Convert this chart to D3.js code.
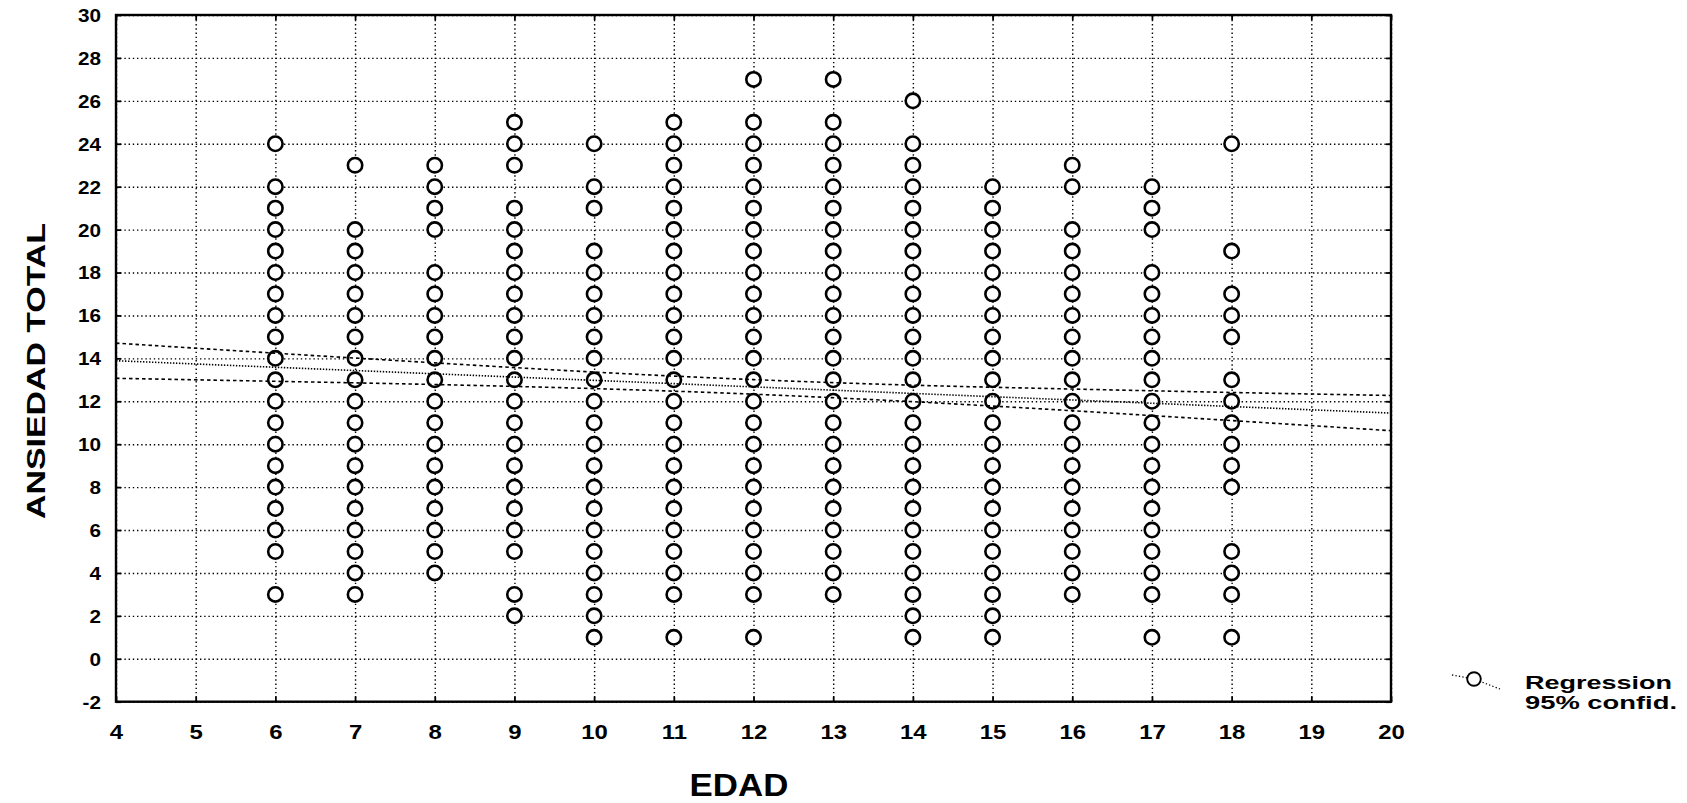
<!DOCTYPE html>
<html>
<head>
<meta charset="utf-8">
<script src="https://cdn.jsdelivr.net/npm/d3@7"></script>
<style>
  html, body { margin: 0; padding: 0; background: #fff; }
  svg { display: block; }
  text { font-family: "Liberation Sans", Arial, Helvetica, sans-serif; font-weight: bold; fill: #000; }
</style>
</head>
<body>
<svg id="chart" width="1687" height="803"></svg>
<script>
// Ages (EDAD) and the anxiety totals observed at each age
const ages = [6, 7, 8, 9, 10, 11, 12, 13, 14, 15, 16, 17, 18];
const scores6  = [24, 22, 21, 20, 19, 18, 17, 16, 15, 14, 13, 12, 11, 10, 9, 8, 7, 6, 5, 3];
const scores7  = [23, 20, 19, 18, 17, 16, 15, 14, 13, 12, 11, 10, 9, 8, 7, 6, 5, 4, 3];
const scores8  = [23, 22, 21, 20, 18, 17, 16, 15, 14, 13, 12, 11, 10, 9, 8, 7, 6, 5, 4];
const scores9  = [25, 24, 23, 21, 20, 19, 18, 17, 16, 15, 14, 13, 12, 11, 10, 9, 8, 7, 6, 5, 3, 2];
const scores10 = [24, 22, 21, 19, 18, 17, 16, 15, 14, 13, 12, 11, 10, 9, 8, 7, 6, 5, 4, 3, 2, 1];
const scores11 = [25, 24, 23, 22, 21, 20, 19, 18, 17, 16, 15, 14, 13, 12, 11, 10, 9, 8, 7, 6, 5, 4, 3, 1];
const scores12 = [27, 25, 24, 23, 22, 21, 20, 19, 18, 17, 16, 15, 14, 13, 12, 11, 10, 9, 8, 7, 6, 5, 4, 3, 1];
const scores13 = [27, 25, 24, 23, 22, 21, 20, 19, 18, 17, 16, 15, 14, 13, 12, 11, 10, 9, 8, 7, 6, 5, 4, 3];
const scores14 = [26, 24, 23, 22, 21, 20, 19, 18, 17, 16, 15, 14, 13, 12, 11, 10, 9, 8, 7, 6, 5, 4, 3, 2, 1];
const scores15 = [22, 21, 20, 19, 18, 17, 16, 15, 14, 13, 12, 11, 10, 9, 8, 7, 6, 5, 4, 3, 2, 1];
const scores16 = [23, 22, 20, 19, 18, 17, 16, 15, 14, 13, 12, 11, 10, 9, 8, 7, 6, 5, 4, 3];
const scores17 = [22, 21, 20, 18, 17, 16, 15, 14, 13, 12, 11, 10, 9, 8, 7, 6, 5, 4, 3, 1];
const scores18 = [24, 19, 17, 16, 15, 13, 12, 11, 10, 9, 8, 5, 4, 3, 1];
const scoreColumns = [scores6, scores7, scores8, scores9, scores10, scores11, scores12,
                      scores13, scores14, scores15, scores16, scores17, scores18];

// Fitted regression line and its 95% confidence band
const fitX = [4, 20];
const fitY = [13.89, 11.45];
const bandX     = [4, 6, 8, 10, 12, 14, 16, 18, 20];
const bandUpper = [14.71, 14.24, 13.79, 13.36, 13.01, 12.75, 12.57, 12.41, 12.27];
const bandLower = [13.07, 12.93, 12.78, 12.59, 12.33, 11.98, 11.56, 11.10, 10.63];

// Axis ticks
const xTickValues = [4, 5, 6, 7, 8, 9, 10, 11, 12, 13, 14, 15, 16, 17, 18, 19, 20];
const yTickValues = [-2, 0, 2, 4, 6, 8, 10, 12, 14, 16, 18, 20, 22, 24, 26, 28, 30];

const xTitle = "EDAD";
const yTitle = "ANSIEDAD TOTAL";
const legendLines = ["Regression", "95% confid."];

// Layout
const plot = { left: 116, right: 1391, top: 15, bottom: 701.7 };
const svg = d3.select("#chart");

const x = d3.scaleLinear().domain([4, 20]).range([plot.left, plot.right]);
const y = d3.scaleLinear().domain([-2, 30]).range([plot.bottom, plot.top]);

const points = [];
ages.forEach((a, i) => scoreColumns[i].forEach(v => points.push({ age: a, score: v })));

// Dotted grid
const grid = svg.append("g").attr("class", "grid");
grid.append("g")
  .attr("transform", `translate(0,${plot.bottom})`)
  .call(d3.axisBottom(x).tickValues(xTickValues).tickSize(-(plot.bottom - plot.top)).tickFormat(""))
  .call(g => g.select(".domain").remove());
grid.append("g")
  .attr("transform", `translate(${plot.left},0)`)
  .call(d3.axisLeft(y).tickValues(yTickValues).tickSize(-(plot.right - plot.left)).tickFormat(""))
  .call(g => g.select(".domain").remove());
grid.selectAll("line")
  .attr("stroke", "#000")
  .attr("stroke-width", 1.4)
  .attr("stroke-dasharray", "1.4,2.8");

// Data points
svg.append("g").attr("class", "points")
  .selectAll("circle")
  .data(points)
  .join("circle")
  .attr("cx", d => x(d.age))
  .attr("cy", d => y(d.score))
  .attr("r", 7.2)
  .attr("fill", "#fff")
  .attr("stroke", "#000")
  .attr("stroke-width", 2.6);

// Regression line and confidence band
const fitLine = d3.line().x(d => x(d[0])).y(d => y(d[1]));
const bandLine = d3.line().x(d => x(d[0])).y(d => y(d[1])).curve(d3.curveNatural);
const reg = svg.append("g").attr("class", "regression").attr("fill", "none").attr("stroke", "#000");
reg.append("path")
  .attr("d", fitLine(fitX.map((v, i) => [v, fitY[i]])))
  .attr("stroke-width", 1.6)
  .attr("stroke-dasharray", "1.4,1.6");
[bandUpper, bandLower].forEach(series => {
  reg.append("path")
    .attr("d", bandLine(bandX.map((v, i) => [v, series[i]])))
    .attr("stroke-width", 1.6)
    .attr("stroke-dasharray", "3.5,3");
});

// Frame with inward ticks on all four sides
svg.append("rect")
  .attr("x", plot.left).attr("y", plot.top)
  .attr("width", plot.right - plot.left).attr("height", plot.bottom - plot.top)
  .attr("fill", "none").attr("stroke", "#000").attr("stroke-width", 2.4);

const xAxis = svg.append("g")
  .attr("transform", `translate(0,${plot.bottom})`)
  .call(d3.axisBottom(x).tickValues(xTickValues).tickSize(-5).tickFormat(d3.format("d")));
const yAxis = svg.append("g")
  .attr("transform", `translate(${plot.left},0)`)
  .call(d3.axisLeft(y).tickValues(yTickValues).tickSize(-5).tickFormat(d3.format("d")));
svg.append("g")
  .attr("transform", `translate(0,${plot.top})`)
  .call(d3.axisTop(x).tickValues(xTickValues).tickSize(-5).tickFormat(""));
svg.append("g")
  .attr("transform", `translate(${plot.right},0)`)
  .call(d3.axisRight(y).tickValues(yTickValues).tickSize(-5).tickFormat(""));
svg.selectAll(".domain").remove();
svg.selectAll(".tick line").filter(function () { return !this.closest(".grid"); })
  .attr("stroke", "#000").attr("stroke-width", 1.8);

xAxis.selectAll("text")
  .attr("y", 0).attr("dy", 0)
  .attr("transform", "translate(0,37) scale(1.14,1)")
  .style("font-size", "21px")
  .style("font-family", "'Liberation Sans', Arial, sans-serif")
  .style("font-weight", "bold");
yAxis.selectAll("text")
  .attr("x", 0).attr("dy", "0.36em")
  .attr("transform", "translate(-15,0) scale(1.15,1)")
  .style("font-size", "18px")
  .style("font-family", "'Liberation Sans', Arial, sans-serif")
  .style("font-weight", "bold");
yAxis.selectAll("text").filter(d => d < 0).text(d => "-" + Math.abs(d));

// Axis titles
svg.append("text")
  .attr("transform", "translate(739,796) scale(1.09,1)")
  .attr("text-anchor", "middle")
  .style("font-size", "32px")
  .text(xTitle);
svg.append("text")
  .attr("transform", "translate(36,371) rotate(-90)")
  .attr("text-anchor", "middle")
  .attr("dy", "0.36em")
  .attr("textLength", 296)
  .attr("lengthAdjust", "spacingAndGlyphs")
  .style("font-size", "26px")
  .text(yTitle);

// Legend
const legend = svg.append("g").attr("class", "legend");
legend.append("path")
  .attr("d", d3.line()([[1452, 675], [1474, 679], [1500, 689]]))
  .attr("fill", "none").attr("stroke", "#000")
  .attr("stroke-width", 1.3).attr("stroke-dasharray", "1.3,2.2");
legend.append("circle")
  .attr("cx", 1474).attr("cy", 679).attr("r", 6.8)
  .attr("fill", "#fff").attr("stroke", "#000").attr("stroke-width", 1.9);
legend.selectAll("text")
  .data(legendLines)
  .join("text")
  .attr("x", 1525)
  .attr("y", (d, i) => i === 0 ? 689 : 709)
  .attr("textLength", (d, i) => i === 0 ? 147 : 152)
  .attr("lengthAdjust", "spacingAndGlyphs")
  .style("font-size", "17.5px")
  .text(d => d);
</script>
</body>
</html>
